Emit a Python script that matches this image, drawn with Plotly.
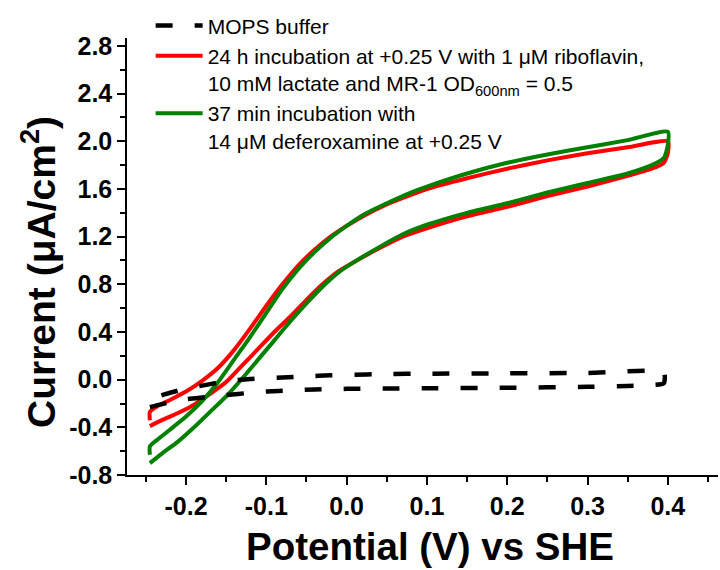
import plotly.graph_objects as go

# ---- data (V vs SHE, current in uA/cm2) ----
mops_v = [-0.245, -0.23, -0.20, -0.18, -0.15, -0.12, -0.10, -0.07, -0.04, 0.00, 0.05, 0.10, 0.20, 0.30, 0.35, 0.38, 0.395,
          0.395, 0.30, 0.20, 0.10, 0.05, 0.00, -0.02, -0.05, -0.08, -0.10, -0.12, -0.14, -0.16, -0.18, -0.20, -0.22, -0.24]
mops_i = [-0.23, -0.205, -0.165, -0.15, -0.13, -0.11, -0.10, -0.09, -0.082, -0.077, -0.074, -0.072, -0.068, -0.060, -0.053, -0.045, -0.03,
          0.06, 0.056, 0.053, 0.050, 0.047, 0.040, 0.036, 0.028, 0.018, 0.012, 0.006, -0.006, -0.025, -0.05, -0.075, -0.11, -0.15]

red_v = [-0.245, -0.23, -0.21, -0.19, -0.17, -0.15, -0.13, -0.11, -0.09, -0.07, -0.05, -0.03, -0.01, 0.01, 0.04, 0.07, 0.10, 0.15, 0.20, 0.25, 0.30, 0.35, 0.38, 0.395, 0.40,
         0.40, 0.35, 0.30, 0.25, 0.20, 0.15, 0.10, 0.08, 0.05, 0.02, 0.00, -0.02, -0.04, -0.06, -0.08, -0.10, -0.12, -0.14, -0.16, -0.18, -0.20, -0.22, -0.235, -0.245, -0.245]
red_i = [-0.39, -0.34, -0.28, -0.21, -0.12, -0.02, 0.12, 0.26, 0.40, 0.53, 0.67, 0.80, 0.91, 0.99, 1.10, 1.20, 1.27, 1.37, 1.45, 1.54, 1.62, 1.71, 1.77, 1.82, 1.90,
         2.00, 1.95, 1.90, 1.84, 1.77, 1.69, 1.60, 1.55, 1.47, 1.37, 1.29, 1.20, 1.09, 0.96, 0.80, 0.62, 0.43, 0.25, 0.10, -0.01, -0.10, -0.17, -0.22, -0.27, -0.34]

green_v = [-0.245, -0.23, -0.21, -0.19, -0.17, -0.15, -0.13, -0.11, -0.09, -0.07, -0.05, -0.03, -0.01, 0.01, 0.04, 0.07, 0.10, 0.15, 0.20, 0.25, 0.30, 0.35, 0.38, 0.395, 0.40,
           0.40, 0.35, 0.30, 0.25, 0.20, 0.15, 0.10, 0.08, 0.05, 0.02, 0.00, -0.02, -0.04, -0.06, -0.08, -0.10, -0.12, -0.14, -0.16, -0.18, -0.20, -0.22, -0.235, -0.245, -0.245]
green_i = [-0.70, -0.62, -0.52, -0.40, -0.27, -0.14, 0.01, 0.17, 0.33, 0.49, 0.64, 0.78, 0.90, 0.99, 1.11, 1.22, 1.30, 1.40, 1.48, 1.57, 1.65, 1.73, 1.80, 1.86, 1.97,
           2.08, 2.01, 1.95, 1.89, 1.82, 1.73, 1.62, 1.57, 1.48, 1.38, 1.29, 1.19, 1.07, 0.93, 0.76, 0.56, 0.36, 0.17, -0.02, -0.18, -0.31, -0.42, -0.50, -0.56, -0.63]

x_tickvals = [-0.2, -0.1, 0.0, 0.1, 0.2, 0.3, 0.4]
x_ticktext = ["-0.2", "-0.1", "0.0", "0.1", "0.2", "0.3", "0.4"]
y_tickvals = [-0.8, -0.4, 0.0, 0.4, 0.8, 1.2, 1.6, 2.0, 2.4, 2.8]
y_ticktext = ["-0.8", "-0.4", "0.0", "0.4", "0.8", "1.2", "1.6", "2.0", "2.4", "2.8"]

names = [
    "MOPS buffer",
    "24 h incubation at +0.25 V with 1 \u03bcM riboflavin,<br>10 mM lactate and MR-1 OD<sub>600nm</sub> = 0.5",
    "37 min incubation with<br>14 \u03bcM deferoxamine at +0.25 V",
]
x_title = "<b>Potential (V) vs SHE</b>"
y_title = "<b>Current (\u03bcA/cm<sup>2</sup>)</b>"

fig = go.Figure()
fig.add_trace(go.Scatter(x=red_v, y=red_i, mode="lines", name=names[1], legendrank=2,
                         line=dict(color="#FF0000", width=4, shape="spline", smoothing=0.6)))
fig.add_trace(go.Scatter(x=green_v, y=green_i, mode="lines", name=names[2], legendrank=3,
                         line=dict(color="#008000", width=4, shape="spline", smoothing=0.6)))
fig.add_trace(go.Scatter(x=mops_v, y=mops_i, mode="lines", name=names[0], legendrank=1,
                         line=dict(color="#000000", width=4.5, dash="17px,22px", shape="spline", smoothing=0.6)))

font_family = "Liberation Sans, Arial, sans-serif"
fig.update_layout(
    width=720, height=570,
    margin=dict(l=127, r=2, t=38, b=95),
    paper_bgcolor="white", plot_bgcolor="white",
    font=dict(family=font_family, color="black"),
    showlegend=True,
    legend=dict(x=0.04, y=1.075, xanchor="left", yanchor="top", bgcolor="rgba(0,0,0,0)",
                font=dict(size=21, family=font_family, color="black"),
                valign="top", tracegroupgap=0, itemwidth=47, traceorder="normal"),
    xaxis=dict(range=[-0.2735, 0.4625], showgrid=False, zeroline=False,
               showline=True, linecolor="black", linewidth=1.5,
               ticks="outside", ticklen=8, tickwidth=1.5, tickcolor="black",
               tickmode="array", tickvals=x_tickvals, ticktext=x_ticktext,
               tickfont=dict(size=25, family=font_family, weight="bold"),
               minor=dict(tickmode="linear", tick0=0, dtick=0.05, ticks="outside", ticklen=5,
                          tickwidth=1.5, tickcolor="black", showgrid=False)),
    yaxis=dict(range=[-0.8, 2.867], showgrid=False, zeroline=False,
               showline=True, linecolor="black", linewidth=1.5,
               ticks="outside", ticklen=8, tickwidth=1.5, tickcolor="black",
               tickmode="array", tickvals=y_tickvals, ticktext=y_ticktext,
               tickfont=dict(size=25, family=font_family, weight="bold"),
               minor=dict(tickmode="linear", tick0=0, dtick=0.2, ticks="outside", ticklen=5,
                          tickwidth=1.5, tickcolor="black", showgrid=False)),
    annotations=[
        dict(text=x_title, xref="paper", yref="paper", x=(430 - 127) / 591, y=-(546 - 475) / 437,
             xanchor="center", yanchor="middle", showarrow=False,
             font=dict(size=38.5, family=font_family, color="black")),
        dict(text=y_title, xref="paper", yref="paper", x=(38 - 127) / 591, y=(475 - 272) / 437,
             xanchor="center", yanchor="middle", showarrow=False, textangle=-90,
             font=dict(size=39, family=font_family, color="black")),
    ],
)

fig.write_html("out.html")
